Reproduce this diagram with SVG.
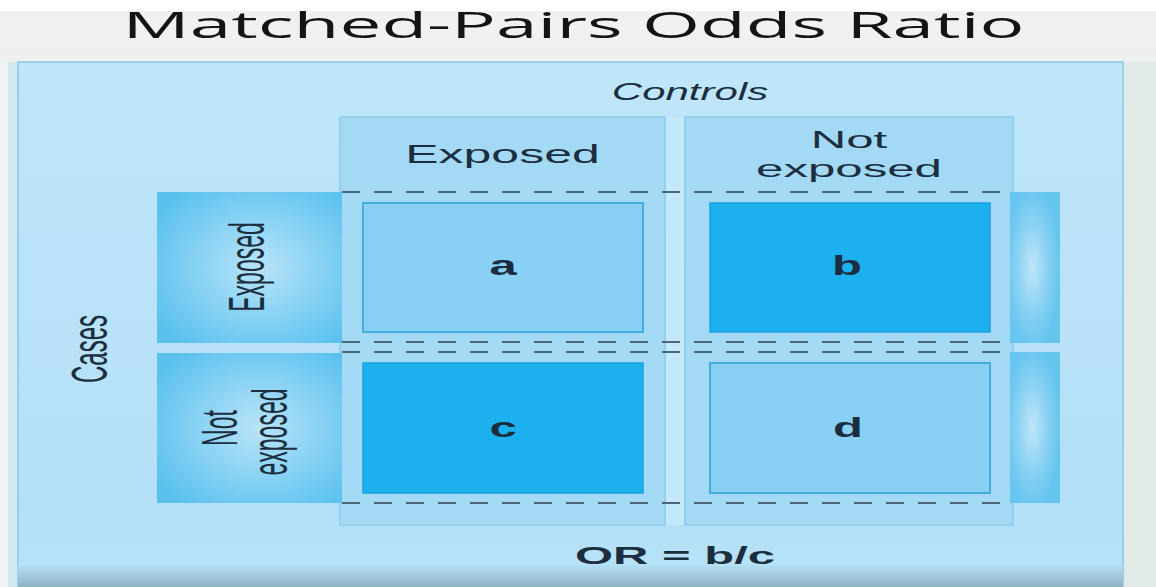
<svg xmlns="http://www.w3.org/2000/svg" width="1156" height="587" viewBox="0 0 1156 587">
<style>
.lbl{font-family:"Liberation Sans",Arial,sans-serif;fill:#1b2e40;text-anchor:middle}
.cell{font-size:28px;font-weight:bold}
.col{fill:#a3d9f5;stroke:#8acbee;stroke-width:1.5}
.light{fill:#88d0f4;stroke:#44ade0;stroke-width:2}
.dark{fill:#1db0ef;stroke:#1aa3e2;stroke-width:1.5}
.dash{stroke:#4b6677;stroke-width:2;stroke-dasharray:18 14;fill:none}
</style>
<defs>
<linearGradient id="bg" x1="0" y1="0" x2="0" y2="1">
<stop offset="0" stop-color="#f1f3f2"/>
<stop offset="1" stop-color="#cbd6d5"/>
</linearGradient>
<linearGradient id="panel" x1="0" y1="0" x2="0" y2="1">
<stop offset="0" stop-color="#bfe6fa"/>
<stop offset="0.85" stop-color="#b3e0f7"/>
<stop offset="1" stop-color="#b8e2f6"/>
</linearGradient>
<linearGradient id="bottom" x1="0" y1="0" x2="0" y2="1">
<stop offset="0" stop-color="#b3dff4"/>
<stop offset="1" stop-color="#8fb3c3"/>
</linearGradient>
<radialGradient id="row" cx="0.55" cy="0.5" r="0.65">
<stop offset="0" stop-color="#b9e4f8"/>
<stop offset="1" stop-color="#5ac1ef"/>
</radialGradient>
<radialGradient id="ghost" cx="0.45" cy="0.5" r="0.55">
<stop offset="0" stop-color="#bfe7f9"/>
<stop offset="0.55" stop-color="#8ad1f3"/>
<stop offset="1" stop-color="#64c5ef"/>
</radialGradient>
</defs>

<!-- background -->
<rect x="0" y="0" width="1156" height="587" fill="url(#bg)"/>
<rect x="0" y="0" width="1156" height="11" fill="#ffffff"/>
<rect x="1123" y="62" width="33" height="525" fill="#e2eae8"/>
<rect x="0" y="62" width="8" height="525" fill="#eef3f3"/>
<rect x="8" y="62" width="10" height="525" fill="#d2e8f1"/>
<g id="title">
<text transform="translate(573.5,38) scale(2,1)" x="0" y="0" font-family="'Open Sans','Liberation Sans',sans-serif" font-size="36" font-weight="normal" fill="#141414" text-anchor="middle" textLength="451" lengthAdjust="spacingAndGlyphs">Matched-Pairs Odds Ratio</text>
</g>

<!-- panel -->
<g id="panel">
<rect x="18" y="62" width="1105" height="525" fill="url(#panel)" stroke="#86c6e6" stroke-width="1.5"/>
<rect x="18" y="565" width="1105" height="22" fill="url(#bottom)"/>
</g>

<g id="controls-label">
<text class="lbl" transform="translate(690,100) scale(1.75,1)" font-size="24" font-style="italic" fill="#24405a">Controls</text>
</g>

<!-- columns -->
<g id="col-exposed">
<rect class="col" x="340" y="117" width="325" height="408"/>
<text class="lbl" transform="translate(502.5,163) scale(2,1)" font-size="25">Exposed</text>
</g>
<rect x="666" y="117" width="18" height="408" fill="#c3e8fa"/>
<g id="col-not-exposed">
<rect class="col" x="685" y="117" width="328" height="408"/>
<text class="lbl" transform="translate(849,148) scale(2.05,1)" font-size="24">Not</text>
<text class="lbl" transform="translate(849,177) scale(2.05,1)" font-size="24">exposed</text>
</g>

<!-- row headers -->
<g id="cases-label">
<text class="lbl" font-size="24" transform="translate(107,349) scale(2.1,1) rotate(-90)">Cases</text>
</g>
<g id="row-exposed">
<rect x="157" y="192" width="185" height="151" fill="url(#row)"/>
<text class="lbl" font-size="23" transform="translate(264,267) scale(2.2,1) rotate(-90)">Exposed</text>
</g>
<g id="row-not-exposed">
<rect x="157" y="353" width="185" height="150" fill="url(#row)"/>
<text class="lbl" font-size="23" transform="translate(237,428) scale(2.2,1) rotate(-90)">Not</text>
<text class="lbl" font-size="23" transform="translate(287,432) scale(2.2,1) rotate(-90)">exposed</text>
</g>

<!-- ghost tabs at right -->
<g id="tab-top"><rect x="1010" y="192" width="50" height="151" fill="url(#ghost)"/></g>
<g id="tab-bottom"><rect x="1010" y="352" width="50" height="151" fill="url(#ghost)"/></g>

<!-- cells -->
<g id="cell-a">
<rect class="light" x="363" y="203" width="280" height="129"/>
<text class="lbl cell" transform="translate(503,275) scale(1.75,1)">a</text>
</g>
<g id="cell-b">
<rect class="dark" x="710" y="203" width="280" height="129"/>
<text class="lbl cell" transform="translate(847,275) scale(1.75,1)">b</text>
</g>
<g id="cell-c">
<rect class="dark" x="363" y="363" width="280" height="130"/>
<text class="lbl cell" transform="translate(503,437) scale(1.75,1)">c</text>
</g>
<g id="cell-d">
<rect class="light" x="710" y="363" width="280" height="130"/>
<text class="lbl cell" transform="translate(848,437) scale(1.75,1)">d</text>
</g>

<!-- dashed dividers -->
<g id="connectors">
<line class="dash" x1="342" y1="192" x2="1010" y2="192"/>
<line class="dash" x1="342" y1="342" x2="1010" y2="342"/>
<line class="dash" x1="342" y1="352" x2="1010" y2="352"/>
<line class="dash" x1="342" y1="503" x2="1010" y2="503"/>
</g>

<g id="formula">
<text class="lbl" transform="translate(675,564) scale(2.04,1)" font-size="24" font-weight="bold">OR = b/c</text>
</g>
</svg>
